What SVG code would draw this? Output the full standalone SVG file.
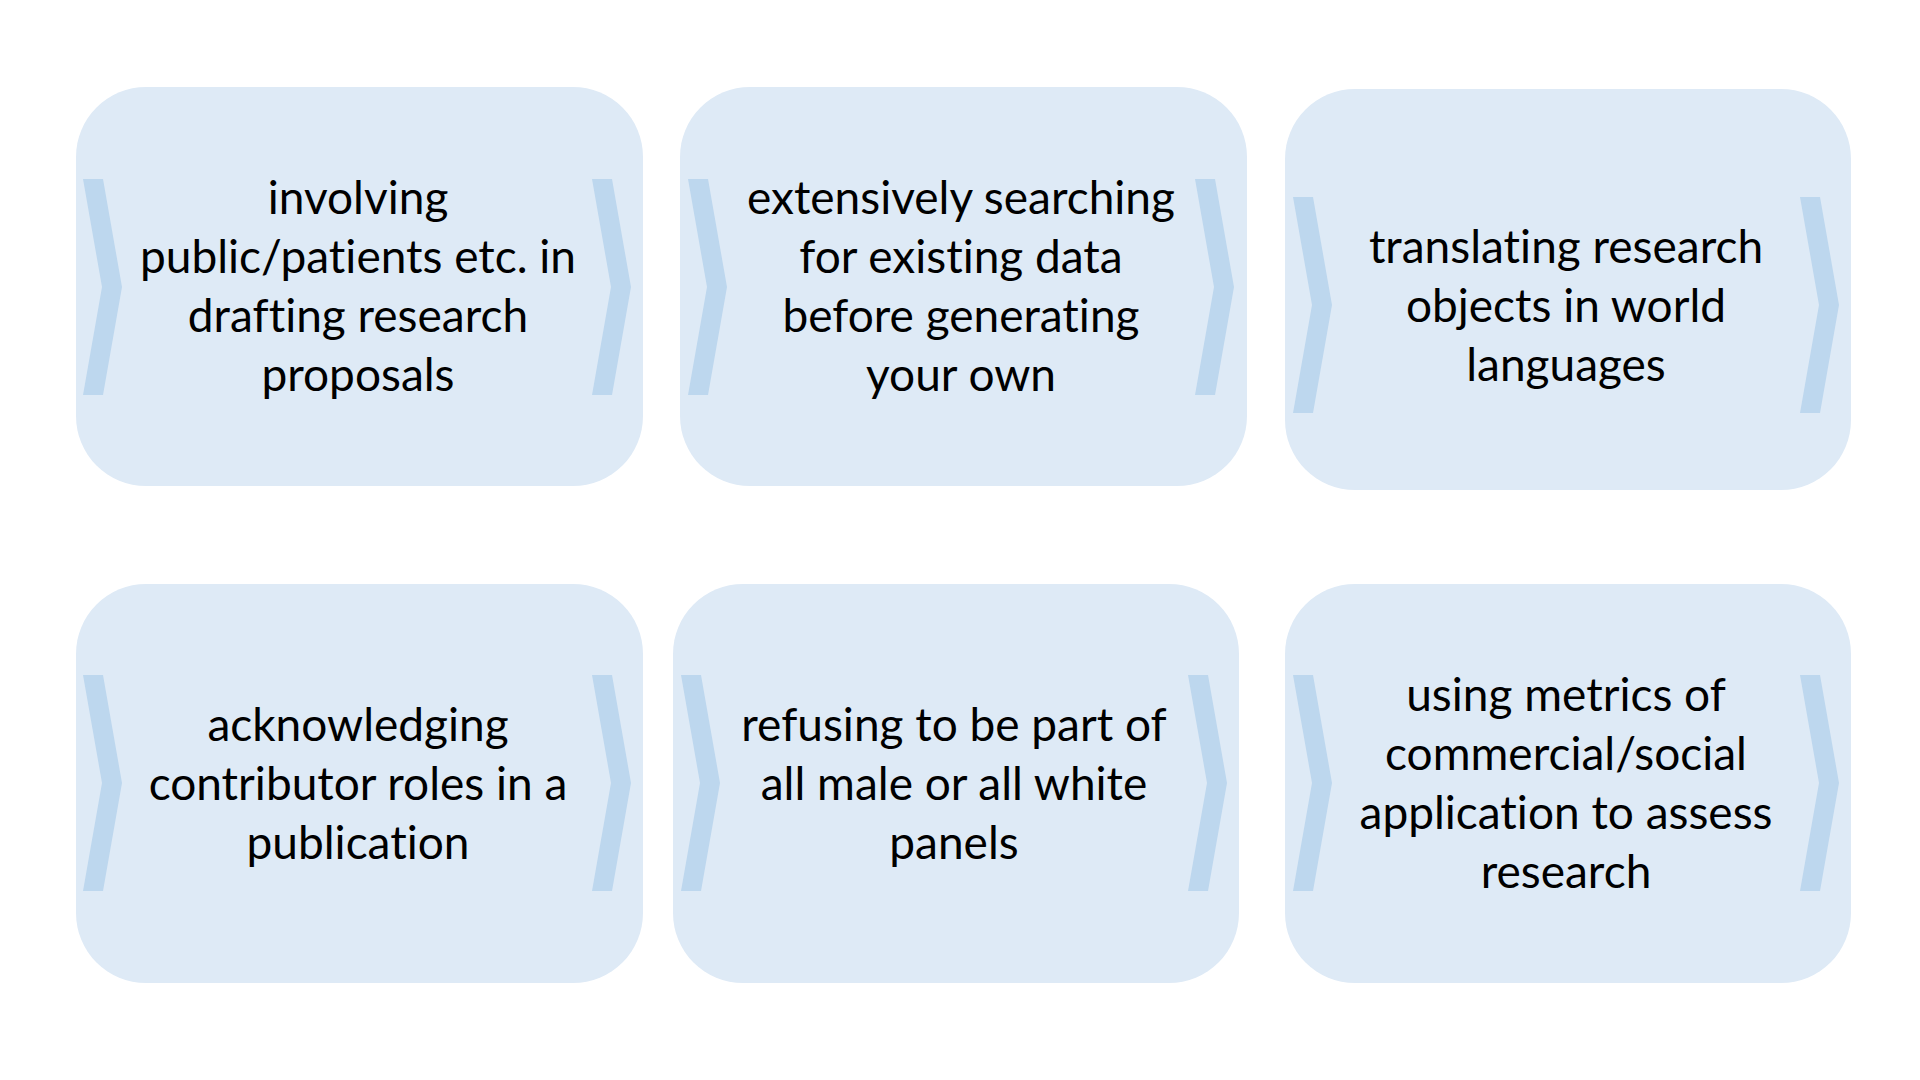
<svg xmlns="http://www.w3.org/2000/svg" xmlns:xlink="http://www.w3.org/1999/xlink" width="1920" height="1080" viewBox="0 0 1920 1080">
<style>
.box{fill:#DEEAF6;}
.chev{fill:#BDD7EE;}
.t{font-family:Lato,"Open Sans","Liberation Sans",sans-serif;font-size:46px;fill:#000;text-anchor:middle;font-variant-ligatures:none;}
</style>
<defs>
<path id="chev" class="chev" d="M0,0 H20 L39,108 L20,216 H0 L19,108 Z"/>
</defs>
<rect width="1920" height="1080" fill="#fff"/>
<g id="node1">
<rect class="box" x="76" y="87" width="567" height="399" rx="70"/>
<use href="#chev" x="83" y="179"/>
<use href="#chev" x="592" y="179"/>
<text class="t" x="358"><tspan x="358" y="214">involving</tspan><tspan x="358" y="273">public/patients etc. in</tspan><tspan x="358" y="332">drafting research</tspan><tspan x="358" y="391">proposals</tspan></text>
</g>
<g id="node2">
<rect class="box" x="680" y="87" width="567" height="399" rx="70"/>
<use href="#chev" x="688" y="179"/>
<use href="#chev" x="1195" y="179"/>
<text class="t"><tspan x="961" y="214">extensively searching</tspan><tspan x="961" y="273">for existing data</tspan><tspan x="961" y="332">before generating</tspan><tspan x="961" y="391">your own</tspan></text>
</g>
<g id="node3">
<rect class="box" x="1285" y="89" width="566" height="401" rx="70"/>
<use href="#chev" x="1293" y="197"/>
<use href="#chev" x="1800" y="197"/>
<text class="t"><tspan x="1566" y="263">translating research</tspan><tspan x="1566" y="322">objects in world</tspan><tspan x="1566" y="381">languages</tspan></text>
</g>
<g id="node4">
<rect class="box" x="76" y="584" width="567" height="399" rx="70"/>
<use href="#chev" x="83" y="675"/>
<use href="#chev" x="592" y="675"/>
<text class="t"><tspan x="358" y="741">acknowledging</tspan><tspan x="358" y="800">contributor roles in a</tspan><tspan x="358" y="859">publication</tspan></text>
</g>
<g id="node5">
<rect class="box" x="673" y="584" width="566" height="399" rx="70"/>
<use href="#chev" x="681" y="675"/>
<use href="#chev" x="1188" y="675"/>
<text class="t"><tspan x="954" y="741">refusing to be part of</tspan><tspan x="954" y="800">all male or all white</tspan><tspan x="954" y="859">panels</tspan></text>
</g>
<g id="node6">
<rect class="box" x="1285" y="584" width="566" height="399" rx="70"/>
<use href="#chev" x="1293" y="675"/>
<use href="#chev" x="1800" y="675"/>
<text class="t"><tspan x="1566" y="711">using metrics of</tspan><tspan x="1566" y="770">commercial/social</tspan><tspan x="1566" y="829">application to assess</tspan><tspan x="1566" y="888">research</tspan></text>
</g>
<g id="connectors"></g>
</svg>
